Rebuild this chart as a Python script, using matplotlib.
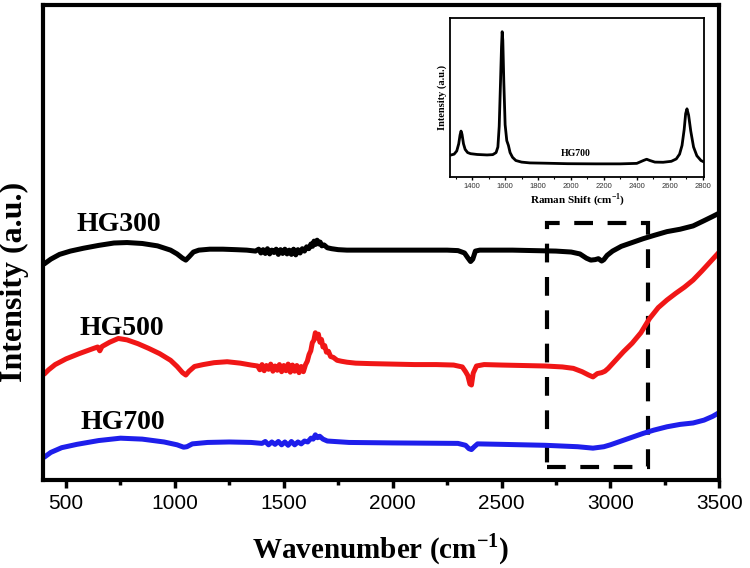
import numpy as np
import matplotlib
matplotlib.use("Agg")
import matplotlib.pyplot as plt
from matplotlib.patches import Rectangle
from matplotlib.ticker import MultipleLocator

plt.rcParams["mathtext.fontset"] = "custom"
plt.rcParams["mathtext.rm"] = "Liberation Serif"
plt.rcParams["mathtext.bf"] = "Liberation Serif:bold"

# FTIR spectra (wavenumber in cm-1, intensity in a.u.)
w300 = [400, 430, 470, 520, 580, 650, 720, 780, 850, 920, 980, 1010, 1035, 1050, 1065, 1085, 1110, 1160, 1220, 1280,
        1330, 1370, 1385, 1395, 1405, 1415, 1425, 1435, 1445, 1455, 1465, 1475, 1485, 1495, 1505, 1515, 1525, 1535,
        1545, 1555, 1565, 1575, 1585, 1595, 1605, 1615, 1625, 1632, 1639, 1646, 1653, 1660, 1667, 1675, 1685, 1700,
        1720, 1750, 1790, 1850, 1950, 2050, 2150, 2250, 2300, 2330, 2345, 2358, 2368, 2380, 2400, 2450, 2550, 2650,
        2750, 2820, 2860, 2890, 2910, 2930, 2945, 2960, 2970, 2985, 3010, 3050, 3100, 3150, 3200, 3260, 3320, 3380,
        3430, 3470, 3500]
i300 = [45.5, 46.5, 47.5, 48.2, 48.8, 49.4, 49.9, 50.0, 49.8, 49.3, 48.4, 47.6, 46.7, 46.3, 47.0, 48.0, 48.4, 48.6, 48.6,
        48.5, 48.4, 48.2, 48.6, 47.8, 48.5, 47.7, 48.7, 47.6, 48.4, 47.9, 48.6, 47.5, 48.5, 47.7, 48.6, 47.6, 48.4, 47.5,
        48.6, 47.4, 48.5, 47.8, 48.7, 48.2, 49.1, 48.7, 49.7, 49.2, 50.3, 49.6, 50.5, 49.7, 50.1, 49.3, 49.5, 48.9,
        48.7, 48.5, 48.4, 48.4, 48.4, 48.4, 48.4, 48.4, 48.3, 47.8, 46.8, 46.0, 46.5, 48.2, 48.4, 48.4, 48.4, 48.3,
        48.2, 48.0, 47.6, 46.7, 46.3, 46.4, 46.6, 46.1, 46.4, 47.3, 48.2, 49.2, 50.0, 50.8, 51.5, 52.3, 52.8, 53.5,
        54.6, 55.5, 56.2]

w500 = [400, 420, 450, 500, 560, 620, 645, 655, 665, 700, 740, 780, 830, 880, 930, 980, 1010, 1035, 1050, 1065, 1090,
        1130, 1180, 1240, 1300, 1350, 1380, 1390, 1400, 1410, 1420, 1430, 1440, 1450, 1460, 1470, 1480, 1490, 1500,
        1510, 1520, 1530, 1540, 1550, 1560, 1570, 1580, 1590, 1600, 1608, 1616, 1624, 1631, 1638, 1645, 1652, 1659,
        1666, 1673, 1680, 1688, 1696, 1705, 1715, 1728, 1745, 1765, 1790, 1830, 1900, 2000, 2100, 2200, 2280, 2320,
        2335, 2345, 2355, 2362, 2370, 2385, 2420, 2500, 2600, 2700, 2780, 2830, 2870, 2900, 2920, 2940, 2960, 2975,
        2990, 3020, 3060, 3100, 3140, 3180, 3220, 3260, 3300, 3340, 3380, 3420, 3460, 3500]
i500 = [22.3, 23.2, 24.3, 25.5, 26.6, 27.6, 28.0, 27.2, 28.1, 29.0, 29.8, 29.5, 28.7, 27.7, 26.6, 25.2, 23.9, 22.6, 22.1,
        22.9, 23.9, 24.3, 24.7, 24.9, 24.6, 24.2, 24.0, 23.2, 24.3, 23.0, 24.1, 23.3, 24.4, 22.9, 24.0, 23.1, 24.3,
        22.8, 24.1, 23.0, 24.4, 22.7, 24.2, 22.9, 24.1, 22.6, 23.9, 22.8, 24.3, 25.0, 26.4, 27.2, 28.9, 29.4, 31.0,
        29.9, 30.7, 29.0, 29.6, 28.0, 28.3, 26.9, 27.1, 26.0, 25.8, 25.2, 25.0, 24.8, 24.6, 24.5, 24.4, 24.3, 24.3,
        24.2, 23.8, 22.8, 22.0, 20.2, 20.0, 22.5, 24.0, 24.3, 24.2, 24.1, 24.0, 23.8, 23.5, 22.8, 22.1, 21.7, 22.4,
        22.6, 22.9, 23.5, 25.0, 27.0, 28.8, 31.0, 34.0, 36.3, 37.9, 39.3, 40.6, 42.1, 44.0, 46.0, 48.0]

w700 = [400, 430, 480, 550, 650, 750, 850, 950, 1010, 1040, 1055, 1080, 1150, 1250, 1350, 1400, 1415, 1430, 1445, 1460,
        1475, 1490, 1505, 1520, 1535, 1550, 1565, 1580, 1595, 1610, 1625, 1635, 1645, 1655, 1665, 1680, 1700, 1800,
        2000, 2300, 2335, 2350, 2362, 2375, 2390, 2500, 2700, 2850, 2920, 2970, 3000, 3050, 3100, 3150, 3200, 3260,
        3320, 3380, 3430, 3470, 3500]
i700 = [4.8, 5.8, 6.8, 7.5, 8.3, 8.8, 8.6, 8.0, 7.4, 6.9, 7.0, 7.6, 7.9, 8.0, 7.9, 7.7, 8.1, 7.4, 8.0, 7.5, 8.1, 7.4,
        8.0, 7.3, 8.1, 7.4, 8.0, 7.6, 8.2, 8.0, 8.8, 8.6, 9.5, 8.9, 9.2, 8.6, 8.2, 7.9, 7.8, 7.7, 7.3, 6.6, 6.4, 7.0,
        7.6, 7.5, 7.3, 7.0, 6.7, 7.0, 7.4, 8.2, 9.0, 9.8, 10.5, 11.2, 11.7, 12.0, 12.6, 13.4, 14.2]

# Raman spectrum of HG700 (inset)
raman_shift = [1272, 1290, 1306, 1318, 1326, 1332, 1338, 1347, 1357, 1372, 1390, 1430, 1490, 1525, 1545, 1556, 1564,
               1572, 1578, 1582, 1586, 1592, 1600, 1610, 1620, 1630, 1645, 1665, 1700, 1750, 1850, 1980, 2150, 2300,
               2400, 2440, 2460, 2480, 2510, 2560, 2610, 2640, 2660, 2675, 2688, 2697, 2705, 2715, 2728, 2745, 2765,
               2790, 2810]
raman_int = [14.0, 14.5, 16.5, 21.0, 26.5, 29.0, 27.0, 21.0, 17.5, 15.5, 14.8, 14.3, 14.0, 14.2, 15.5, 19.0, 32.0,
             60.0, 82.0, 91.5, 86.0, 60.0, 33.0, 23.0, 20.0, 15.5, 12.5, 10.5, 9.5, 9.0, 8.8, 8.5, 8.4, 8.4, 8.7, 10.5,
             11.3, 10.5, 9.5, 9.4, 10.0, 11.5, 14.5, 20.0, 30.0, 40.0, 43.0, 39.0, 29.0, 19.0, 13.5, 10.5, 9.5]

# dashed box around the 2700-3170 region
box_x = [2709, 3173]
box_y = [2.7, 54.1]

serif = "Liberation Serif"
sans = "Liberation Sans"

fig = plt.figure(figsize=(7.5, 5.68), dpi=100)
ax = fig.add_axes([0.057, 0.155, 0.902, 0.836])

ax.plot(w300, i300, color="black", lw=3.6, solid_capstyle="round", solid_joinstyle="round")
ax.plot(w500, i500, color="#f01616", lw=3.6, solid_capstyle="round", solid_joinstyle="round")
ax.plot(w700, i700, color="#1e1eeb", lw=3.6, solid_capstyle="round", solid_joinstyle="round")

ax.add_patch(Rectangle((box_x[0], box_y[0]), box_x[1] - box_x[0], box_y[1] - box_y[0], fill=False,
                       edgecolor="black", lw=3, linestyle=(0, (4.5, 3.5))))

ax.text(743, 53.9, "HG300", fontsize=20, fontweight="bold", family=serif, ha="center", va="center")
ax.text(757, 32.0, "HG500", fontsize=20, fontweight="bold", family=serif, ha="center", va="center")
ax.text(762, 12.0, "HG700", fontsize=20, fontweight="bold", family=serif, ha="center", va="center")

ax.set_xlim(393, 3500)
ax.set_ylim(0, 100)
ax.xaxis.set_major_locator(MultipleLocator(500))
ax.xaxis.set_minor_locator(MultipleLocator(250))
ax.set_yticks([])
ax.tick_params(axis="x", which="major", direction="out", length=6, width=2.5, labelsize=15, pad=4)
ax.tick_params(axis="x", which="minor", direction="out", length=3.5, width=2.5)
for lab in ax.get_xticklabels():
    lab.set_family(sans)
for s in ax.spines.values():
    s.set_linewidth(3)

ax.set_xlabel("Wavenumber (cm$^{\\mathbf{-1}}$)", fontsize=21, fontweight="bold", family=serif)
ax.set_ylabel("Intensity (a.u.)", fontsize=23, fontweight="bold", family=serif)
ax.xaxis.set_label_coords(0.5, -0.108)
ax.yaxis.set_label_coords(-0.021, 0.417)

# inset: Raman spectrum
ins = fig.add_axes([0.6, 0.688, 0.339, 0.28])
ins.plot(raman_shift, raman_int, color="black", lw=2)
ins.set_xlim(1265, 2810)
ins.set_ylim(0, 100)
ins.xaxis.set_major_locator(MultipleLocator(200))
ins.xaxis.set_minor_locator(MultipleLocator(100))
ins.set_yticks([])
ins.tick_params(axis="x", which="major", direction="out", length=2, width=1, labelsize=5.5, pad=2, labelcolor="#333333")
ins.tick_params(axis="x", which="minor", direction="out", length=1.5, width=0.8)
for lab in ins.get_xticklabels():
    lab.set_family(sans)
for s in ins.spines.values():
    s.set_linewidth(1.3)
ins.text(2030, 15, "HG700", fontsize=7, fontweight="bold", family=serif, ha="center", va="center")
ins.set_xlabel("Raman Shift (cm$^{\\mathbf{-1}}$)", fontsize=8, fontweight="bold", family=serif, labelpad=1)
ins.set_ylabel("Intensity (a.u.)", fontsize=7.5, fontweight="bold", family=serif, labelpad=2)

fig.savefig("out.png", dpi=100)
